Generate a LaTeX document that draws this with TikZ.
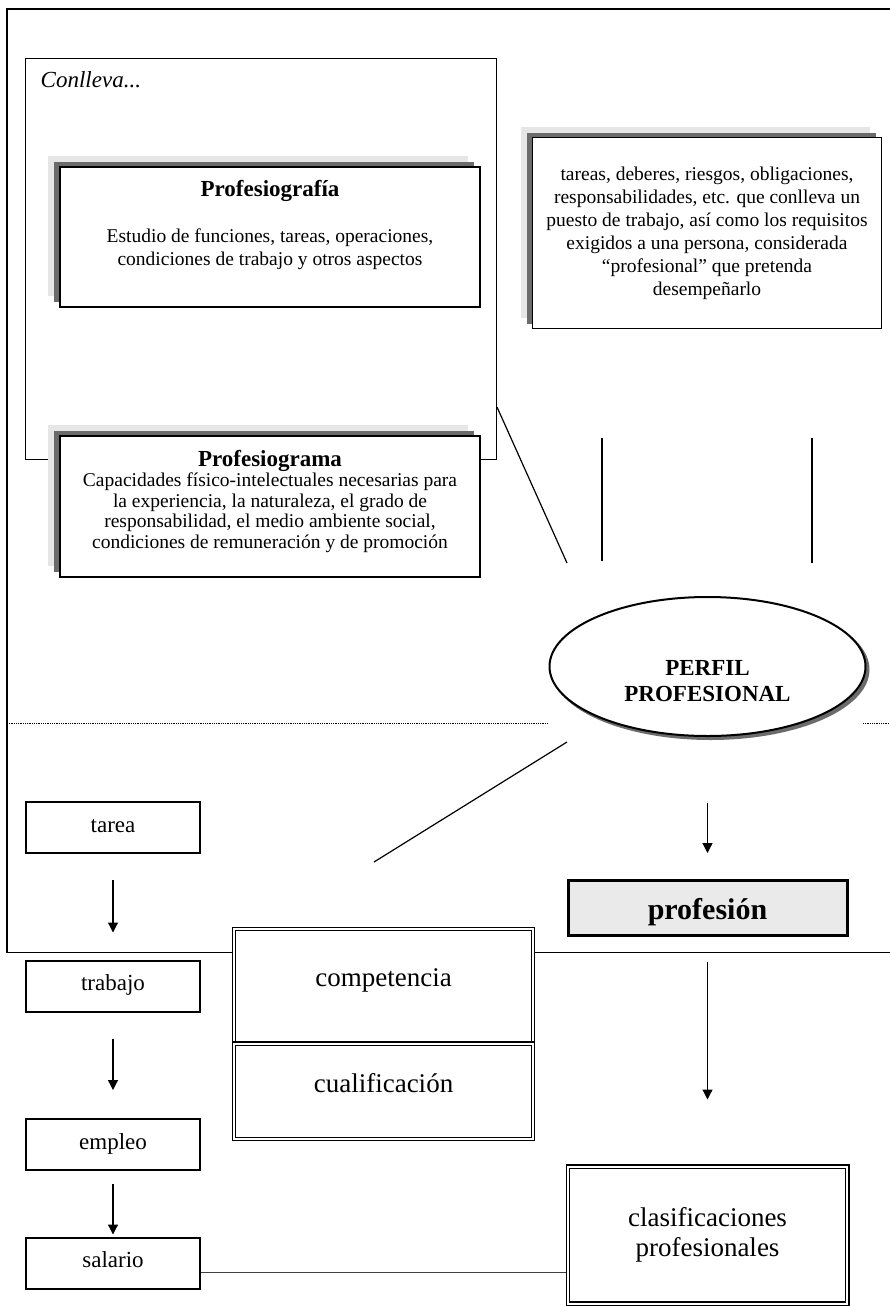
\documentclass[tikz,border=0pt]{standalone}
\usepackage{fontspec}
\setmainfont{Liberation Serif}
\usetikzlibrary{arrows.meta,shapes.geometric,shadows,positioning}

\definecolor{shadelight}{HTML}{E6E6E6}
\definecolor{shadedark}{HTML}{6B6B6B}
\definecolor{boxgray}{HTML}{EAEAEA}
\newcommand{\fsz}[2]{\fontsize{#1}{#2}\selectfont}

\begin{document}
\begin{tikzpicture}[x=1pt,y=-1pt,
    thinline/.style={line width=1.2pt},
    dotline/.style={line width=0.8pt,dash pattern=on 0.8pt off 1pt},
    flow/.style={line width=1.2pt,-{Triangle[length=10pt,width=10pt]}},
    shadowbox/.style={draw,line width=1.2pt,fill=white,inner sep=0pt,align=center,
      copy shadow={shadow xshift=-12pt,shadow yshift=11pt,fill=shadelight,draw=none},
      copy shadow={shadow xshift=-6pt,shadow yshift=5pt,fill=shadedark,draw=none}},
    stage/.style={draw,line width=2pt,fill=white,minimum width=174pt,minimum height=51pt,
      font=\fsz{23}{26},text height=14pt,text depth=5pt},
    dbox/.style={draw,double,line width=1.2pt,double distance=2pt,inner sep=0pt,outer sep=0pt,
      minimum width=298.6pt,font=\fsz{27}{30}},
  ]
  \useasboundingbox (0,0) rectangle (890,1306);

  \coordinate (ftl) at (7,9);
  \coordinate (ftr) at (890,9);
  \coordinate (fbl) at (7,952.5);
  \coordinate (fbr) at (890,952.5);

  \node[dbox,minimum height=114.3pt,text height=10pt,text depth=10pt] (comp) at (383.5,986.35) {competencia};
  \node[dbox,minimum height=95.3pt,text height=12pt,text depth=8.4pt,below=0pt of comp] (cual) {cualificación};

  \draw[thinline,shorten >=2.2pt] (ftr) -- (ftl) -- (fbl) -- (fbl -| comp.west);
  \draw[thinline,shorten <=2.2pt] (fbl -| comp.east) -- (fbr);

  \node[draw,thinline,minimum width=470.8pt,minimum height=400.8pt] (conlleva) at (261,259) {};
  \node[anchor=base west,inner sep=0pt,font=\itshape\fsz{23}{26}] (conllevatxt) at (40.5,87) {Conlleva...};

  \coordinate (dl) at (7,723);
  \coordinate (dm1) at (548,723);
  \coordinate (dm2) at (863,723);
  \coordinate (dr) at (890,723);
  \draw[dotline] (dl) -- (dm1) (dm2) -- (dr);

  \coordinate (c1) at (497,407);
  \coordinate (c2) at (567,563);
  \coordinate (v1a) at (602,438);
  \coordinate (v1b) at (602,561);
  \coordinate (v2a) at (812,438);
  \coordinate (v2b) at (812,563);
  \coordinate (e1) at (567,742);
  \coordinate (e2) at (374,862);
  \draw[thinline] (c1) -- (c2);
  \draw[thinline] (v1a) -- (v1b);
  \draw[thinline] (v2a) -- (v2b);
  \draw[thinline] (e1) -- (e2);

  \node[shadowbox,minimum width=420pt,minimum height=140pt,font=\fsz{19.5}{22.7}] (grafia) at (270,237)
    {{\bfseries\fsz{23}{26}Profesiografía}\\[23.3pt]Estudio de funciones, tareas, operaciones,\\condiciones de trabajo y otros aspectos\\[5.3pt]\mbox{}};
  \node[shadowbox,minimum width=420pt,minimum height=141pt,font=\fsz{19.5}{20.5}] (grama) at (270,506.5)
    {{\bfseries\fsz{23}{26}Profesiograma}\\Capacidades físico-intelectuales necesarias para\\la experiencia, la naturaleza, el grado de\\responsabilidad, el medio ambiente social,\\condiciones de remuneración y de promoción\\[-5.5pt]\mbox{}};
  \node[shadowbox,minimum width=349pt,minimum height=191pt,font=\fsz{19.5}{23}] (puesto) at (707,233)
    {tareas, deberes, riesgos, obligaciones,\\responsabilidades, etc. que conlleva un\\puesto de trabajo, así como los requisitos\\exigidos a una persona, considerada\\“profesional” que pretenda\\desempeñarlo};

  \node[ellipse,draw,line width=2pt,fill=white,minimum width=316pt,minimum height=139pt,inner sep=0pt,
    align=center,font=\bfseries\fsz{23}{26},
    copy shadow={shadow xshift=3pt,shadow yshift=-3pt,draw=shadedark,fill=shadedark,line width=2pt}]
    (perfil) at (707.5,666.5) {\mbox{}\\[18pt]PERFIL\\PROFESIONAL};

  \node[stage] (tarea) at (113,827.5) {tarea};
  \node[stage] (trabajo) at (113,986) {trabajo};
  \node[stage] (empleo) at (113,1144.5) {empleo};
  \node[stage] (salario) at (113,1263) {salario};

  \node[draw,line width=3pt,fill=boxgray,minimum width=279pt,minimum height=55pt,
    font=\bfseries\fsz{30}{34},text height=22pt,text depth=0pt] (profesion) at (707.5,908) {profesión};
  \node[dbox,minimum width=279.6pt,minimum height=137pt,align=center] (clasif) at (707.5,1235)
    {clasificaciones\\profesionales};

  \draw[flow,shorten <=26pt,shorten >=27pt] (tarea) -- (trabajo);
  \draw[flow,shorten <=26pt,shorten >=28pt] (trabajo) -- (empleo);
  \draw[flow,shorten <=13pt,shorten >=2pt] (empleo) -- (salario);
  \draw[flow,shorten <=66pt,shorten >=26pt] (perfil) -- (profesion);
  \draw[flow,shorten <=25pt,shorten >=67pt] (profesion) -- (clasif);

  \coordinate (sl) at ([yshift=-9pt]salario.east);
  \draw[line width=1pt,draw=black!75,shorten >=2.2pt] (sl) -- (sl -| clasif.west);
\end{tikzpicture}
\end{document}
